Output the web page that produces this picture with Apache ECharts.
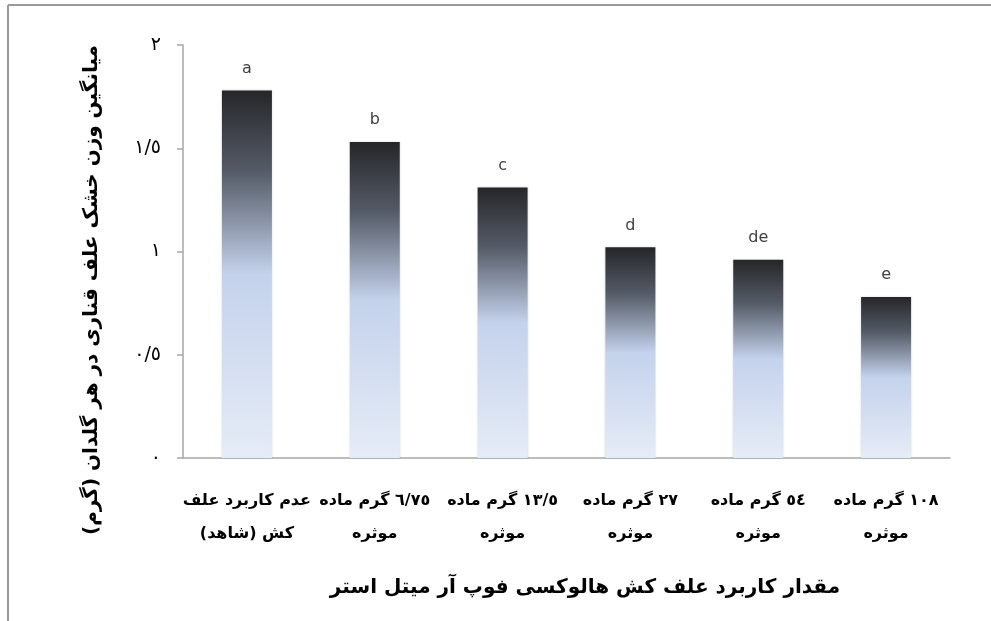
<!DOCTYPE html>
<html>
<head>
<meta charset="utf-8">
<script src="https://cdn.jsdelivr.net/npm/echarts@6/dist/echarts.min.js"></script>
<style>
  html, body { margin: 0; padding: 0; background: #fff; overflow: hidden; }
  #chart { width: 991px; height: 621px; direction: rtl; }
</style>
</head>
<body>
<div id="chart"></div>
<script>
// treatments (x axis)
var categories = [
  'عدم کاربرد علف\nکش (شاهد)',
  '٦/٧٥ گرم ماده\nموثره',
  '١٣/٥ گرم ماده\nموثره',
  '٢٧ گرم ماده\nموثره',
  '٥٤ گرم ماده\nموثره',
  '١٠٨ گرم ماده\nموثره'
]
// mean dry weight (g)
var values = [1.78, 1.53, 1.31, 1.02, 0.96, 0.78]
// significance letters
var letters = ['a', 'b', 'c', 'd', 'de', 'e']
var yTickLabels = {
  '0': '٠',
  '0.5': '٠/٥',
  '1': '١',
  '1.5': '١/٥',
  '2': '٢'
}

var fontFamily = '"DejaVu Sans", sans-serif'

var chart = echarts.init(document.getElementById('chart'))

chart.setOption({
  backgroundColor: '#fff',
  animation: false,
  grid: {
    left: 183,
    right: 41,
    top: 45,
    bottom: 163
  },
  graphic: [{
    // picture frame, only left and top edges are visible
    type: 'line',
    shape: { x1: 8, y1: 5, x2: 8, y2: 621 },
    style: { stroke: '#9a9a9a', lineWidth: 2 },
    silent: true
  }, {
    type: 'line',
    shape: { x1: 8, y1: 5, x2: 991, y2: 5 },
    style: { stroke: '#9a9a9a', lineWidth: 2 },
    silent: true
  }, {
    type: 'text',
    x: 92,
    y: 290,
    rotation: Math.PI / 2,
    style: {
      text: 'میانگین وزن خشک علف قناری در هر گلدان (گرم)',
      align: 'center',
      verticalAlign: 'middle',
      font: 'bold 20px ' + fontFamily,
      fill: '#000'
    }
  }, {
    type: 'text',
    x: 585,
    y: 588,
    style: {
      text: 'مقدار کاربرد علف کش هالوکسی فوپ آر میتل استر',
      align: 'center',
      verticalAlign: 'middle',
      font: 'bold 20px ' + fontFamily,
      fill: '#000'
    }
  }],
  xAxis: {
    type: 'category',
    data: categories,
    axisLine: { lineStyle: { color: '#a6a6a6', width: 1.5 } },
    axisTick: { show: false },
    axisLabel: {
      interval: 0,
      margin: 26,
      color: '#000',
      fontSize: 16,
      fontWeight: 'bold',
      fontFamily: fontFamily,
      lineHeight: 33
    }
  },
  yAxis: {
    type: 'value',
    min: 0,
    max: 2,
    interval: 0.5,
    splitLine: { show: false },
    axisLine: { show: true, lineStyle: { color: '#a6a6a6', width: 1.5 } },
    axisTick: { show: true, length: 6, lineStyle: { color: '#a6a6a6', width: 1.5 } },
    axisLabel: {
      margin: 22,
      color: '#000',
      fontSize: 19,
      fontFamily: fontFamily,
      formatter: function(v) {
        return yTickLabels[String(v)]
      }
    }
  },
  series: [{
    type: 'bar',
    data: values,
    barWidth: 50,
    itemStyle: {
      color: {
        type: 'linear',
        x: 0, y: 0, x2: 0, y2: 1,
        colorStops: [
          { offset: 0, color: '#262628' },
          { offset: 0.22, color: '#555b67' },
          { offset: 0.5, color: '#c4d2ec' },
          { offset: 1, color: '#e6ecf7' }
        ]
      },
      shadowColor: 'rgba(0,0,0,0.15)',
      shadowBlur: 2
    },
    label: {
      show: true,
      position: 'top',
      distance: 14,
      color: '#404040',
      fontSize: 16,
      fontFamily: fontFamily,
      formatter: function(p) {
        return letters[p.dataIndex]
      }
    }
  }]
})
</script>
</body>
</html>
